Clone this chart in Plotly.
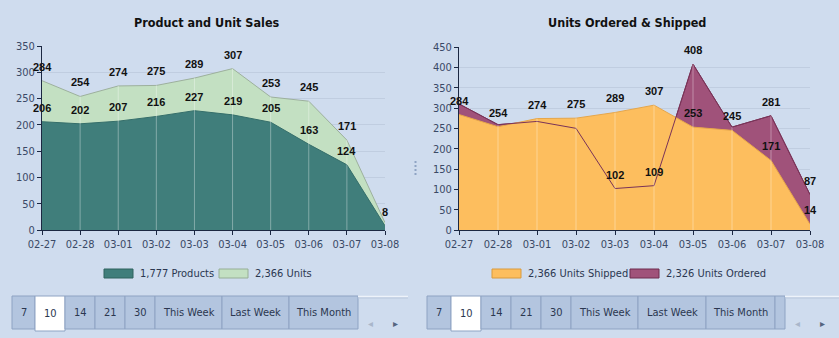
import plotly.graph_objects as go

W, H = 839, 338

dates = ["02-27", "02-28", "03-01", "03-02", "03-03", "03-04", "03-05", "03-06", "03-07", "03-08"]
products = [206, 202, 207, 216, 227, 219, 205, 163, 124, 8]
units = [284, 254, 274, 275, 289, 307, 253, 245, 171, 14]
shipped = [284, 254, 274, 275, 289, 307, 253, 245, 171, 14]
ordered = [310, 259, 267, 250, 102, 109, 408, 253, 281, 87]

left_yticks = [0, 50, 100, 150, 200, 250, 300, 350]
right_yticks = [0, 50, 100, 150, 200, 250, 300, 350, 400, 450]
tab_labels = ["7", "10", "14", "21", "30", "This Week", "Last Week", "This Month"]

BG = "#CFDCEE"
TEAL = "#407E7B"
GREEN = "#C3E0C2"
ORANGE = "#FDBE5E"
PURPLE = "#A0527A"
FONT = "Tahoma, 'DejaVu Sans Condensed', 'DejaVu Sans', sans-serif"
LABFONT = "'Liberation Sans', Arial, sans-serif"

def px(x):
    return x / W

def py(y):
    return 1 - y / H

xs = list(range(len(dates)))

fig = go.Figure()

# Left chart
fig.add_trace(go.Scatter(x=xs, y=units, fill="tozeroy", mode="lines", fillcolor=GREEN,
                         line=dict(color="#9DB09D", width=1), xaxis="x", yaxis="y", showlegend=False,
                         hoverinfo="skip"))
fig.add_trace(go.Scatter(x=xs, y=products, fill="tozeroy", mode="lines", fillcolor=TEAL,
                         line=dict(color="#356E6A", width=1), xaxis="x", yaxis="y", showlegend=False,
                         hoverinfo="skip"))
# Right chart
fig.add_trace(go.Scatter(x=xs, y=ordered, fill="tozeroy", mode="lines", fillcolor=PURPLE,
                         line=dict(color="#7A3358", width=1), xaxis="x2", yaxis="y2", showlegend=False,
                         hoverinfo="skip"))
fig.add_trace(go.Scatter(x=xs, y=shipped, fill="tozeroy", mode="lines", fillcolor=ORANGE,
                         line=dict(color="#E6A64A", width=1), xaxis="x2", yaxis="y2", showlegend=False,
                         hoverinfo="skip"))
fig.add_trace(go.Scatter(x=xs, y=ordered, mode="lines",
                         line=dict(color="#7A3358", width=1), xaxis="x2", yaxis="y2", showlegend=False,
                         hoverinfo="skip"))

shapes = []
annotations = []

# vertical light grid lines over fills
for i in xs[1:-1]:
    shapes.append(dict(type="line", xref="x", yref="y", x0=i, x1=i, y0=0, y1=max(units[i], products[i]),
                       line=dict(color="rgba(255,255,255,0.35)", width=1), layer="above"))
    shapes.append(dict(type="line", xref="x2", yref="y2", x0=i, x1=i, y0=0, y1=max(shipped[i], ordered[i]),
                       line=dict(color="rgba(255,255,255,0.35)", width=1), layer="above"))

lab = dict(family=LABFONT, size=11, color="#111111")

def dlabel(i, v, xr, yr):
    annotations.append(dict(x=i, y=v, xref=xr, yref=yr, text=f"<b>{v}</b>", xanchor="center",
                            yanchor="middle", showarrow=False, yshift=14, font=lab))

# data labels left
for i in xs:
    if units[i] - products[i] > 20:
        dlabel(i, units[i], "x", "y")
    dlabel(i, products[i], "x", "y")
# data labels right
for i in xs:
    dlabel(i, shipped[i], "x2", "y2")
    if abs(ordered[i] - shipped[i]) > 30:
        dlabel(i, ordered[i], "x2", "y2")

def ptext(x, y, text, font, xanchor="center"):
    annotations.append(dict(x=px(x), y=py(y), xref="paper", yref="paper", text=text, xanchor=xanchor,
                            yanchor="middle", showarrow=False, font=font))

# titles
for cx, t in [(207, "Product and Unit Sales"), (627, "Units Ordered & Shipped")]:
    ptext(cx, 22, f"<b>{t}</b>", dict(family=FONT, size=12.5, color="#111111"))

# legends (manual)
def legend_item(x0, color, border, text):
    shapes.append(dict(type="rect", xref="paper", yref="paper", x0=px(x0), x1=px(x0 + 29),
                       y0=py(278), y1=py(269), fillcolor=color, line=dict(color=border, width=1)))
    ptext(x0 + 34, 273.5, text, dict(family=FONT, size=11, color="#2B3750"), xanchor="left")

legend_item(104, TEAL, "#2F625F", f"{sum(products):,} Products")
legend_item(219, GREEN, "#96AE96", f"{sum(units):,} Units")
legend_item(492, ORANGE, "#D99A3C", f"{sum(shipped):,} Units Shipped")
legend_item(630, PURPLE, "#6E2D4E", f"{sum(ordered):,} Units Ordered")

# tab strips
def tab_strip(bounds, extra_end, line_end):
    top, bot = 296, 329
    for k, lbl in enumerate(tab_labels):
        x0, x1 = bounds[k], bounds[k + 1]
        sel = (k == 1)
        shapes.append(dict(type="rect", xref="paper", yref="paper", x0=px(x0), x1=px(x1),
                           y0=py(331 if sel else bot), y1=py(top),
                           fillcolor="#FFFFFF" if sel else "#B3C5DF",
                           line=dict(color="#8EA3C3", width=1), layer="above"))
        ptext((x0 + x1) / 2, 313 if sel else 312, lbl, dict(family=FONT, size=11, color="#2B3750"))
    if extra_end:
        shapes.append(dict(type="rect", xref="paper", yref="paper", x0=px(bounds[-1]), x1=px(extra_end),
                           y0=py(bot), y1=py(top), fillcolor="#B3C5DF",
                           line=dict(color="#8EA3C3", width=1), layer="above"))
    start = extra_end if extra_end else bounds[-1]
    shapes.append(dict(type="line", xref="paper", yref="paper", x0=px(start), x1=px(line_end),
                       y0=py(296.5), y1=py(296.5), line=dict(color="#EEF3FA", width=1.5)))
    shapes.append(dict(type="line", xref="paper", yref="paper", x0=px(start), x1=px(line_end),
                       y0=py(298), y1=py(298), line=dict(color="#B9C7DB", width=1)))
    arrow_x = start + 12
    ptext(arrow_x, 323, "◂", dict(family="DejaVu Sans", size=10, color="#A9B6CA"))
    ptext(arrow_x + 25, 323, "▸", dict(family="DejaVu Sans", size=10, color="#55657F"))

tab_strip([12, 35, 65, 95, 125, 155, 222, 289, 358], None, 408)
tab_strip([427, 451, 481, 511, 541, 571, 638, 706, 775], 785, 839)

# divider dots
for yy in [162, 166, 170, 174]:
    shapes.append(dict(type="rect", xref="paper", yref="paper", x0=px(414.5), x1=px(416.5),
                       y0=py(yy + 1), y1=py(yy - 1), fillcolor="#8FA4C4", line=dict(width=0)))

tickfont = dict(family=FONT, size=11, color="#3A4966")
xcommon = dict(tickmode="array", tickvals=xs, ticktext=dates, range=[0, 9], showgrid=False,
               showline=True, linecolor="#1C2842", linewidth=1, ticks="outside", ticklen=4,
               tickcolor="#1C2842", tickfont=tickfont, zeroline=False, fixedrange=True, automargin=False)
ycommon = dict(showgrid=True, gridcolor="#C0CDE0", gridwidth=1, showline=True, linecolor="#1C2842",
               linewidth=1, ticks="outside", ticklen=4, tickcolor="#1C2842", tickfont=tickfont,
               zeroline=False, fixedrange=True, automargin=False)

fig.update_layout(
    template="none",
    width=W, height=H,
    margin=dict(l=0, r=0, t=0, b=0, pad=0, autoexpand=False),
    paper_bgcolor=BG, plot_bgcolor=BG,
    showlegend=False,
    xaxis=dict(domain=[px(42), px(385)], anchor="y", **xcommon),
    yaxis=dict(domain=[py(230), py(46)], anchor="x", range=[0, 350], tickvals=left_yticks, **ycommon),
    xaxis2=dict(domain=[px(459), px(810)], anchor="y2", **xcommon),
    yaxis2=dict(domain=[py(230), py(47)], anchor="x2", range=[0, 450], tickvals=right_yticks, **ycommon),
    shapes=shapes,
    annotations=annotations,
)

fig.write_html("out.html", config={"displayModeBar": False})
